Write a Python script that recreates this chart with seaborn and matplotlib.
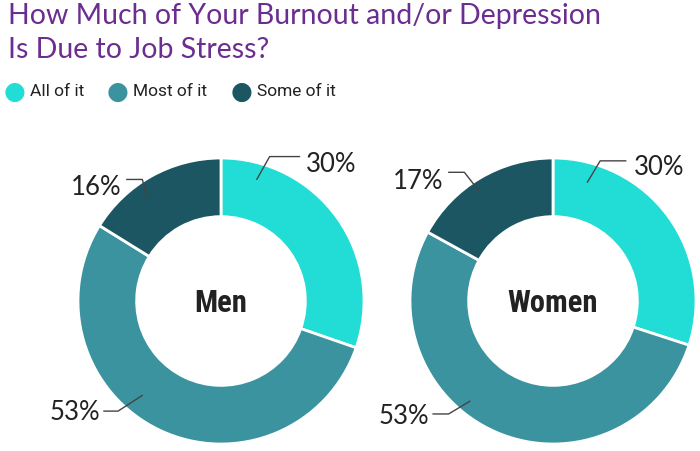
import matplotlib
matplotlib.use("Agg")
import matplotlib.pyplot as plt
import seaborn as sns

# ---- data ----
categories = ["All of it", "Most of it", "Some of it"]
groups = ["Men", "Women"]
men_values = [30, 53, 16]
women_values = [30, 53, 17]
title = "How Much of Your Burnout and/or Depression\nIs Due to Job Stress?"

sns.set_theme(style="white")
plt.rcParams['font.family'] = ['Lato', 'DejaVu Sans']
colors = sns.color_palette(["#22DDD6", "#3A939F", "#1D5663"])

fig = plt.figure(figsize=(7, 4.52), dpi=100)
W, H = 700, 452

def px_axes(cx, cy, r):
    return fig.add_axes([(cx - r) / W, (H - cy - r) / H, 2 * r / W, 2 * r / H])

# label layout: (text x, text y, line points) in axis units
layouts = [
    [((0.77, 0.96), [(0.25, 0.85), (0.34, 1.01), (0.55, 1.01)]),
     ((-1.02, -0.77), [(-0.55, -0.66), (-0.72, -0.77), (-0.82, -0.77)]),
     ((-0.87, 0.80), [(-0.52, 0.73), (-0.55, 0.85), (-0.66, 0.85)])],
    [((0.74, 0.94), [(0.24, 0.83), (0.33, 0.98), (0.51, 0.98)]),
     ((-1.04, -0.80), [(-0.58, -0.70), (-0.73, -0.79), (-0.84, -0.79)]),
     ((-0.94, 0.84), [(-0.51, 0.76), (-0.62, 0.90), (-0.73, 0.90)])],
]

centers = [(221, 302), (553, 302)]
for gi, (grp, vals) in enumerate(zip(groups, [men_values, women_values])):
    cx, cy = centers[gi]
    ax = px_axes(cx, cy, 143)
    ax.pie(vals, colors=colors, startangle=90, counterclock=False,
           radius=1.0, normalize=True,
           wedgeprops=dict(width=0.41, edgecolor="white", linewidth=2))
    ax.set_xlim(-1, 1)
    ax.set_ylim(-1, 1)
    ax.set_aspect("equal")
    ax.axis("off")
    ax.text(0, -0.01, grp, ha="center", va="center", fontsize=22,
            fontweight="heavy", color="#222222",
            family=['Roboto Condensed', 'Liberation Sans Narrow', 'Lato', 'DejaVu Sans'])
    for v, ((tx, ty), pts) in zip(vals, layouts[gi]):
        xs = [p[0] for p in pts]
        ys = [p[1] for p in pts]
        ax.plot(xs, ys, color="#444444", lw=1, clip_on=False)
        ax.text(tx, ty, f"{v}%", ha="center", va="center", fontsize=18.5,
                fontweight="normal", color="#222222", clip_on=False)

# title
fig.text(8 / W, 1 - 3 / H, title, ha="left", va="top", fontsize=20.5,
         color="#6B2D90", linespacing=1.38)

# legend
legend_x = [15, 118, 242]
for cat, col, lx in zip(categories, colors, legend_x):
    fig.text(lx / W, 1 - 92 / H, "\u25CF", ha="center", va="center",
             fontsize=18, color=col, family=['DejaVu Sans'])
    fig.text((lx + 15) / W, 1 - 92 / H, cat, ha="left", va="center",
             fontsize=12.5, color="#222222", family=['Roboto', 'DejaVu Sans'])

fig.savefig("out.png", dpi=100, facecolor="white")
